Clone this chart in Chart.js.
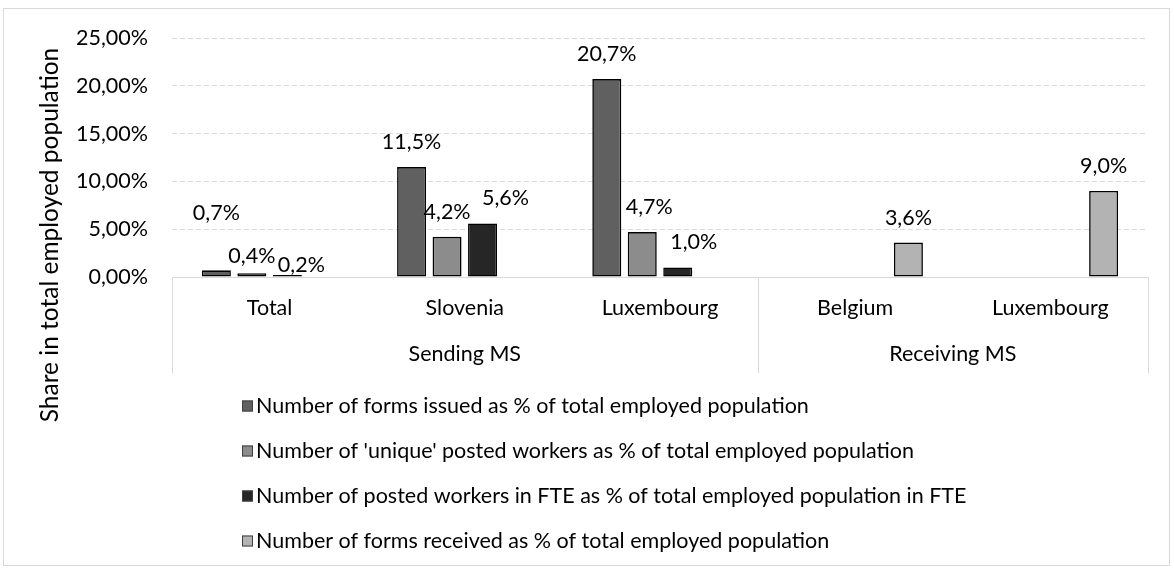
<!DOCTYPE html>
<html>
<head>
<meta charset="utf-8">
<script src="https://cdn.jsdelivr.net/npm/chart.js@4/dist/chart.umd.min.js"></script>
<style>
  html, body { margin: 0; padding: 0; background: #ffffff; }
  canvas { display: block; }
</style>
</head>
<body>
<canvas id="chart" width="1174" height="570"></canvas>
<script>
// ---------------- data ----------------
const categories = ['Total', 'Slovenia', 'Luxembourg', 'Belgium', 'Luxembourg'];
const groupLabels = ['Sending MS', 'Receiving MS'];
const groupSizes = [3, 2];
const seriesNames = [
  'Number of forms issued as % of total employed population',
  "Number of 'unique' posted workers as % of total employed population",
  'Number of posted workers in FTE as % of total employed population in FTE',
  'Number of forms received as % of total employed population'
];
const formsIssued   = [0.7, 11.5, 20.7, null, null];
const uniquePosted  = [0.4, 4.2, 4.7, null, null];
const postedFTE     = [0.2, 5.6, 1.0, null, null];
const formsReceived = [null, null, null, 3.6, 9.0];
const yTickValues = [0, 5, 10, 15, 20, 25];
const yAxisTitle = 'Share in total employed population';

// ---------------- styling ----------------
const FONT = 'Lato, "Liberation Sans", sans-serif';
const TXT = 21.5;
const seriesFill = ['#606060', '#8c8c8c', '#262626', '#b3b3b3'];
const gridGrey = '#d9d9d9';

function fmtPct(v) { return v.toFixed(1).replace('.', ',') + '%'; }

const excelDecor = {
  id: 'excelDecor',
  beforeDraw(chart) {
    const ctx = chart.ctx;
    ctx.save();
    ctx.fillStyle = '#ffffff';
    ctx.fillRect(0, 0, chart.width, chart.height);
    ctx.strokeStyle = gridGrey;
    ctx.lineWidth = 1;
    ctx.strokeRect(3.5, 8.5, 1166, 557);
    ctx.restore();
  },
  beforeDatasetsDraw(chart) {
    const { ctx, chartArea: ca, scales: { y } } = chart;
    const y0 = Math.round(y.getPixelForValue(0)) + 0.5;
    ctx.save();
    ctx.strokeStyle = gridGrey;
    ctx.lineWidth = 1;
    ctx.beginPath();
    ctx.moveTo(ca.left, y0);
    ctx.lineTo(ca.right, y0);
    ctx.stroke();
    ctx.restore();
  },
  afterDatasetsDraw(chart, args, opts) {
    const { ctx } = chart;
    ctx.save();
    ctx.font = `${TXT}px ${FONT}`;
    ctx.fillStyle = '#000';
    ctx.textAlign = 'center';
    ctx.textBaseline = 'middle';
    chart.data.datasets.forEach((ds, d) => {
      const meta = chart.getDatasetMeta(d);
      meta.data.forEach((bar, i) => {
        const v = ds.data[i];
        if (v === null || v === undefined) return;
        const n = (opts.nudges && opts.nudges[d + '-' + i]) || [0, 0];
        ctx.fillText(fmtPct(v), bar.x + n[0], bar.y - opts.gap + n[1]);
      });
    });
    ctx.restore();
  },
  afterDraw(chart, args, opts) {
    const { ctx, chartArea: ca, scales: { x, y } } = chart;
    const y0 = Math.round(y.getPixelForValue(0));
    ctx.save();
    // multi-level category axis
    const n = categories.length;
    const boundary = (i) => {
      if (i <= 0) return ca.left;
      if (i >= n) return ca.right;
      return (x.getPixelForValue(i - 1) + x.getPixelForValue(i)) / 2;
    };
    ctx.strokeStyle = gridGrey;
    ctx.lineWidth = 1;
    let idx = 0;
    const sepIdx = [0];
    groupSizes.forEach(s => { idx += s; sepIdx.push(idx); });
    sepIdx.forEach(i => {
      const bx = Math.round(boundary(i)) + 0.5;
      ctx.beginPath();
      ctx.moveTo(bx, y0);
      ctx.lineTo(bx, opts.axisBottom);
      ctx.stroke();
    });
    ctx.fillStyle = '#000';
    ctx.font = `${TXT}px ${FONT}`;
    ctx.textAlign = 'center';
    ctx.textBaseline = 'middle';
    categories.forEach((c, i) => {
      ctx.fillText(c, x.getPixelForValue(i), opts.catY);
    });
    let start = 0;
    groupLabels.forEach((g, gi) => {
      const end = start + groupSizes[gi];
      ctx.fillText(g, (boundary(start) + boundary(end)) / 2, opts.groupY);
      start = end;
    });
    // y axis title
    ctx.save();
    ctx.font = `${opts.titleSize}px ${FONT}`;
    ctx.translate(opts.titleX, opts.titleY);
    ctx.rotate(-Math.PI / 2);
    ctx.fillText(yAxisTitle, 0, 0);
    ctx.restore();
    // legend
    ctx.font = `${TXT}px ${FONT}`;
    ctx.textAlign = 'left';
    chart.data.datasets.forEach((ds, d) => {
      const ly = opts.legendY[d];
      const sq = opts.legendSquare;
      ctx.fillStyle = ds.backgroundColor;
      ctx.fillRect(opts.legendX, ly - sq / 2, sq, sq);
      ctx.strokeStyle = '#404040';
      ctx.lineWidth = 1;
      ctx.strokeRect(opts.legendX + 0.5, ly - sq / 2 + 0.5, sq - 1, sq - 1);
      ctx.fillStyle = '#000';
      ctx.fillText(ds.label, opts.legendX + sq + 3, ly);
    });
    ctx.restore();
  }
};

const seriesValues = [formsIssued, uniquePosted, postedFTE, formsReceived];

new Chart(document.getElementById('chart'), {
  type: 'bar',
  data: {
    labels: categories,
    datasets: seriesValues.map((vals, k) => ({
      label: seriesNames[k],
      data: vals,
      backgroundColor: seriesFill[k],
      borderColor: '#000000',
      borderWidth: 1.6,
      borderSkipped: false,
      categoryPercentage: 0.727,
      barPercentage: 0.817
    }))
  },
  options: {
    responsive: false,
    animation: false,
    events: [],
    layout: { padding: { top: 38, right: 26, bottom: 293, left: 0 } },
    plugins: {
      legend: { display: false },
      tooltip: { enabled: false },
      title: { display: false },
      excelDecor: {
        gap: 25,
        nudges: { '0-0': [0, -32], '1-0': [0, 8], '2-0': [14, 15], '1-2': [7, 0], '2-1': [23, 0], '2-2': [16, 0] },
        axisBottom: 373,
        catY: 308,
        groupY: 354,
        titleX: 50,
        titleY: 235,
        titleSize: 24.5,
        legendX: 242,
        legendY: [406, 451, 496, 541],
        legendSquare: 11
      }
    },
    scales: {
      x: { display: false },
      y: {
        min: 0,
        max: 25,
        afterBuildTicks: (s) => { s.ticks = yTickValues.map(v => ({ value: v })); },
        afterFit: (s) => { s.width = 172; },
        ticks: {
          padding: 24,
          color: '#000',
          font: { family: FONT, size: TXT },
          callback: (v) => Number(v).toFixed(2).replace('.', ',') + '%'
        },
        grid: { color: gridGrey, lineWidth: 1, drawTicks: false },
        border: { display: false, dash: [5, 3] }
      }
    }
  },
  plugins: [excelDecor]
});
</script>
</body>
</html>
